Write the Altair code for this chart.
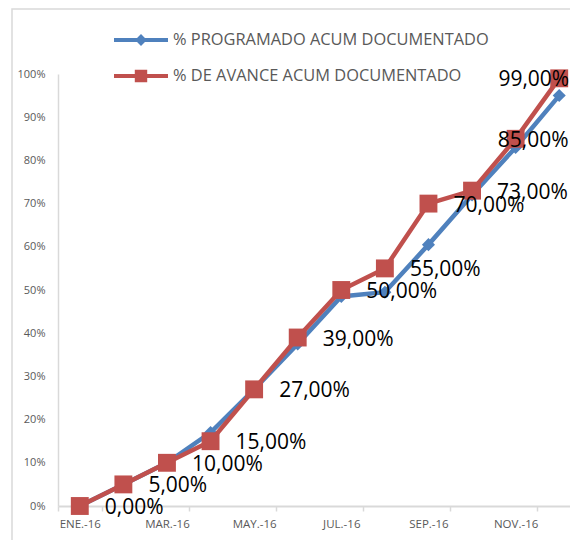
import altair as alt
import pandas as pd

months = ["ENE.-16", "FEB.-16", "MAR.-16", "ABR.-16", "MAY.-16", "JUN.-16",
          "JUL.-16", "AGO.-16", "SEP.-16", "OCT.-16", "NOV.-16", "DIC.-16"]
programado = [0, 5, 10, 17, 27, 37.5, 48.5, 49.5, 60.5, 72, 83, 95]
avance = [0, 5, 10, 15, 27, 39, 50, 55, 70, 73, 85, 99]
series_names = ["% PROGRAMADO ACUM DOCUMENTADO", "% DE AVANCE ACUM DOCUMENTADO"]
colors = ["#4F81BD", "#C0504D"]
y_ticks = [0, 10, 20, 30, 40, 50, 60, 70, 80, 90, 100]


def fmt(v):
    return f"{v:.2f}".replace(".", ",") + "%"


rows = []
for m, p, a in zip(months, programado, avance):
    rows.append({"mes": m, "serie": series_names[0], "pct": p, "label": fmt(p)})
    rows.append({"mes": m, "serie": series_names[1], "pct": a, "label": fmt(a)})
df = pd.DataFrame(rows)

W, H = 512, 432
XR = 523
FONT = "Open Sans"
GRAY = "#d9d9d9"
TXT = "#595959"

diamond_path = ("M-1,-0.075L1,-0.075L1,0.075L-1,0.075Z"
                "M0,-0.22L0.22,0L0,0.22L-0.22,0Z")
square_path = ("M-1,-0.075L1,-0.075L1,0.075L-1,0.075Z"
               "M-0.23,-0.23L0.23,-0.23L0.23,0.23L-0.23,0.23Z")

x_enc = alt.X(
    "mes:N", sort=months, bandPosition=0.5,
    scale=alt.Scale(type="band", paddingInner=0, paddingOuter=0, range=[0, XR]),
    axis=alt.Axis(values=months[::2], tickBand="extent", title=None, labelAngle=0,
                  labelFont=FONT, labelFontSize=11.5, labelColor=TXT,
                  domainColor=GRAY, domainWidth=2, tickColor=GRAY, tickWidth=1.5,
                  tickSize=5, labelPadding=7, grid=False),
)
y_enc = alt.Y(
    "pct:Q", scale=alt.Scale(domain=[0, 100], nice=False),
    axis=alt.Axis(values=y_ticks, labelExpr="datum.value + '%'", title=None,
                  grid=False, ticks=False, domainColor=GRAY, domainWidth=1.5,
                  labelFont=FONT, labelFontSize=11, labelColor=TXT, labelPadding=13),
)
color_scale = alt.Scale(domain=series_names, range=colors)
shape_scale = alt.Scale(domain=series_names, range=[diamond_path, square_path])

legend = alt.Legend(
    title=None, orient="none", legendX=56, legendY=-61, symbolSize=2916,
    rowPadding=-7, labelOffset=5, labelFont=FONT, labelFontSize=16.4,
    labelColor=TXT, padding=0, symbolStrokeWidth=0, symbolOpacity=1,
    labelLimit=0,
)

base = alt.Chart(df)

frame = alt.Chart(alt.Data(values=[{"a": 1}])).mark_rect(
    fill="transparent", stroke=GRAY, strokeWidth=1.5
).encode(x=alt.value(-46), x2=alt.value(W + 40), y=alt.value(-65), y2=alt.value(H + 80))

prog = base.transform_filter(alt.datum.serie == series_names[0])
avan = base.transform_filter(alt.datum.serie == series_names[1])

legend_layer = base.transform_filter(alt.datum.pct < 0).mark_point(
    filled=True, opacity=1, strokeWidth=0
).encode(
    x=x_enc, y=y_enc,
    color=alt.Color("serie:N", scale=color_scale, legend=legend),
    shape=alt.Shape("serie:N", scale=shape_scale, legend=legend),
)

line_p = prog.mark_line(strokeWidth=4.5).encode(
    x=x_enc, y=y_enc, color=alt.Color("serie:N", scale=color_scale, legend=None))
pts_p = prog.mark_point(shape="diamond", filled=True, size=170, opacity=1).encode(
    x=x_enc, y=y_enc, color=alt.Color("serie:N", scale=color_scale, legend=None))
line_a = avan.mark_line(strokeWidth=4.5).encode(
    x=x_enc, y=y_enc, color=alt.Color("serie:N", scale=color_scale, legend=None))
pts_a = avan.mark_point(shape="square", filled=True, size=320, opacity=1).encode(
    x=x_enc, y=y_enc, color=alt.Color("serie:N", scale=color_scale, legend=None))

lab_main = avan.transform_filter(
    ~alt.FieldOneOfPredicate(field="mes", oneOf=months[10:])
).mark_text(align="left", baseline="middle", dx=25, dy=2, font=FONT,
            fontSize=21, color="black").encode(x=x_enc, y=y_enc, text="label:N")
lab_nov = avan.transform_filter(alt.datum.mes == months[10]).mark_text(
    align="right", baseline="middle", dx=53, dy=2, font=FONT, fontSize=21,
    color="black").encode(x=x_enc, y=y_enc, text="label:N")
lab_dic = avan.transform_filter(alt.datum.mes == months[11]).mark_text(
    align="right", baseline="middle", dx=10, dy=2, font=FONT, fontSize=21,
    color="black").encode(x=x_enc, y=y_enc, text="label:N")

chart = alt.layer(
    frame, legend_layer, line_p, pts_p, line_a, pts_a, lab_main, lab_nov, lab_dic
).properties(
    width=W, height=H,
    autosize=alt.AutoSizeParams(type="none"),
    padding={"left": 50, "top": 66, "right": 0, "bottom": 34},
    background="white",
).configure_view(stroke=None)

chart.save("out.html", embed_options={"renderer": "svg", "actions": False})
